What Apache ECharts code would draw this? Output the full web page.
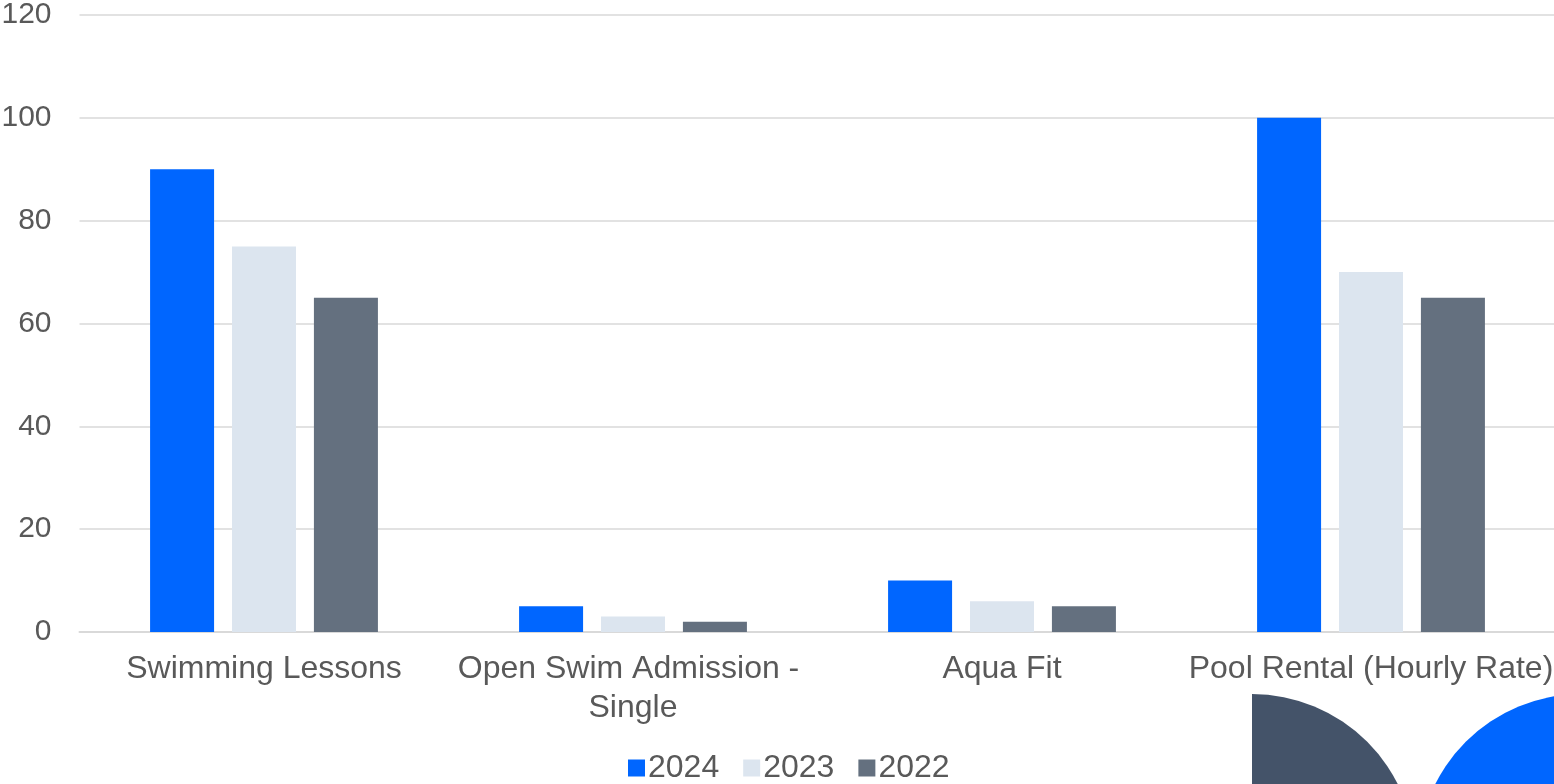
<!DOCTYPE html>
<html>
<head>
<meta charset="utf-8">
<script src="https://cdn.jsdelivr.net/npm/echarts@6/dist/echarts.min.js"></script>
<style>
html,body{margin:0;padding:0;background:#fff;}
#main{width:1554px;height:784px;}
</style>
</head>
<body>
<div id="main"></div>
<script>
const categories = ['Swimming Lessons', 'Open Swim Admission - Single', 'Aqua Fit', 'Pool Rental (Hourly Rate)'];
const seriesNames = ['2024', '2023', '2022'];
const values2024 = [90, 5, 10, 100];
const values2023 = [75, 3, 6, 70];
const values2022 = [65, 2, 5, 65];
const yTicks = { min: 0, max: 120, interval: 20 };

const colors = ['#0066FF', '#DCE5EF', '#64707F'];
const font = '"Liberation Sans", Arial, sans-serif';
const textColor = '#595959';

const chart = echarts.init(document.getElementById('main'));
const data = [values2024, values2023, values2022];

chart.setOption({
  animation: false,
  backgroundColor: '#ffffff',
  color: colors,
  textStyle: { fontFamily: font },
  grid: { left: 79.5, width: 1476, top: 15, bottom: 152, containLabel: false, outerBoundsMode: 'none' },
  legend: {
    data: seriesNames,
    left: 623,
    top: 747,
    itemWidth: 17,
    itemHeight: 17,
    itemGap: 24,
    icon: 'rect',
    textStyle: { fontSize: 32, color: textColor, fontFamily: font, padding: [0, 0, 0, -2] }
  },
  xAxis: {
    type: 'category',
    data: categories,
    axisTick: { show: false },
    axisLine: { show: true, lineStyle: { color: '#D9D9D9', width: 2 } },
    axisLabel: {
      interval: 0,
      fontSize: 32,
      color: textColor,
      fontFamily: font,
      margin: 18,
      lineHeight: 39,
      width: 368,
      overflow: 'break'
    }
  },
  yAxis: {
    type: 'value',
    min: yTicks.min,
    max: yTicks.max,
    interval: yTicks.interval,
    axisLine: { show: false },
    axisTick: { show: false },
    splitLine: { lineStyle: { color: '#D9D9D9', width: 1.5 } },
    axisLabel: { fontSize: 30, color: textColor, fontFamily: font, margin: 28 }
  },
  series: seriesNames.map((name, i) => ({
    name: name,
    type: 'bar',
    data: data[i],
    barWidth: 64,
    barGap: '28%',
    itemStyle: { color: colors[i] }
  })),
  graphic: [
    {
      type: 'sector',
      shape: { cx: 1252, cy: 857, r: 163, r0: 0, startAngle: -Math.PI / 2, endAngle: 0 },
      style: { fill: '#445369' },
      z: 100
    },
    {
      type: 'circle',
      shape: { cx: 1581, cy: 857, r: 163 },
      style: { fill: '#0066FF' },
      z: 100
    }
  ]
});
</script>
</body>
</html>
